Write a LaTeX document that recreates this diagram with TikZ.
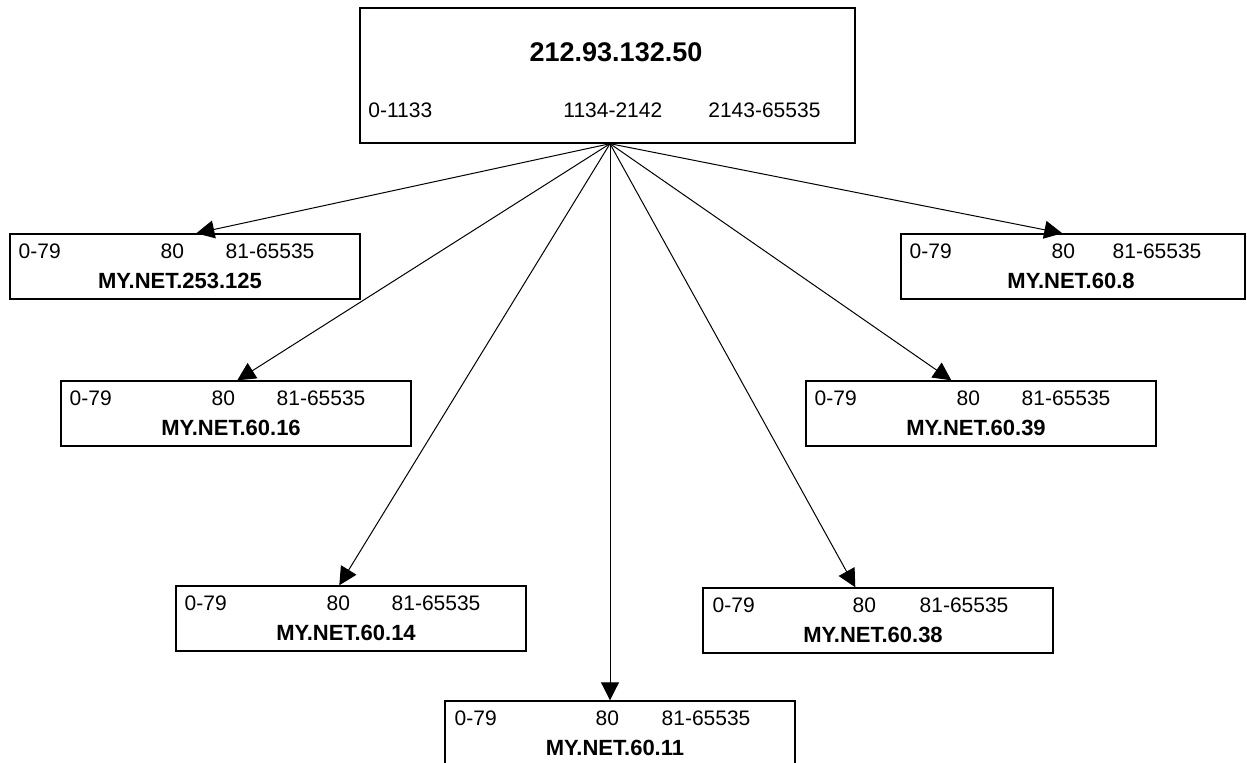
\documentclass[tikz,border=0pt]{standalone}
\usepackage{fontspec}
\setmainfont{Liberation Sans}
\usetikzlibrary{arrows.meta,calc}

\begin{document}
\begin{tikzpicture}[x=0.5pt, y=-0.5pt,
  hostbox/.style={rectangle, draw, line width=0.7pt, minimum width=175pt, minimum height=32.5pt, inner sep=0pt},
  ports/.style={anchor=west, inner sep=0pt, font=\fontsize{10.5}{12}\selectfont},
  hostname/.style={inner sep=0pt, font=\fontsize{11}{13}\selectfont\bfseries},
  arrow/.style={-{Triangle[length=9pt, width=9pt]}, line width=0.5pt},
]
\useasboundingbox (0,0) rectangle (1247,763);

% === Source host ===
\node[hostbox, minimum width=247.5pt, minimum height=67.5pt] (src) at (607.5,75.5) {};
\node[inner sep=0pt, font=\fontsize{13.5}{16}\selectfont\bfseries] (srcname) at (616,52) {212.93.132.50};
\node[ports] (srcports) at (368,110) {\makebox[97.5pt][l]{0-1133}\makebox[72.5pt][l]{1134-2142}2143-65535};
\coordinate (hub) at ($(src.south)+(2.5,0)$);

% === Target hosts ===
\node[hostbox] (h253) at (185,266.5) {};
\node[hostbox, minimum width=172pt] (h608) at (1073,266.5) {};
\node[hostbox] (h6016) at (236,413.5) {};
\node[hostbox] (h6039) at (981,413.5) {};
\node[hostbox] (h6014) at (351,618.5) {};
\node[hostbox] (h6038) at (878,620.5) {};
\node[hostbox] (h6011) at (620,733.5) {};

\node[ports] (p253) at ($(h253.north west)+(9,18)$) {\makebox[71pt][l]{0-79}\makebox[32.5pt][l]{80}81-65535};
\node[ports] (p608) at ($(h608.north west)+(9,18)$) {\makebox[71pt][l]{0-79}\makebox[30.5pt][l]{80}81-65535};
\node[ports] (p6016) at ($(h6016.north west)+(9,18)$) {\makebox[71pt][l]{0-79}\makebox[32.5pt][l]{80}81-65535};
\node[ports] (p6039) at ($(h6039.north west)+(9,18)$) {\makebox[71pt][l]{0-79}\makebox[32.5pt][l]{80}81-65535};
\node[ports] (p6014) at ($(h6014.north west)+(9,18)$) {\makebox[71pt][l]{0-79}\makebox[32.5pt][l]{80}81-65535};
\node[ports] (p6038) at ($(h6038.north west)+(10,18)$) {\makebox[70pt][l]{0-79}\makebox[33.5pt][l]{80}81-65535};
\node[ports] (p6011) at ($(h6011.north west)+(10,18)$) {\makebox[70.5pt][l]{0-79}\makebox[33pt][l]{80}81-65535};

\node[hostname] (n253) at ($(h253.north)+(-5,48)$) {MY.NET.253.125};
\node[hostname] (n608) at ($(h608.north)+(-2,48)$) {MY.NET.60.8};
\node[hostname] (n6016) at ($(h6016.north)+(-5,48)$) {MY.NET.60.16};
\node[hostname] (n6039) at ($(h6039.north)+(-5,48)$) {MY.NET.60.39};
\node[hostname] (n6014) at ($(h6014.north)+(-5,48)$) {MY.NET.60.14};
\node[hostname] (n6038) at ($(h6038.north)+(-5,48)$) {MY.NET.60.38};
\node[hostname] (n6011) at ($(h6011.north)+(-5,48)$) {MY.NET.60.11};

% === Connections ===
\draw[arrow] (hub) -- ($(h253.north west)+(187,0)$);
\draw[arrow] (hub) -- ($(h608.north west)+(162,0)$);
\draw[arrow] (hub) -- ($(h6016.north west)+(177,0)$);
\draw[arrow] (hub) -- ($(h6039.north west)+(146,0)$);
\draw[arrow] (hub) -- ($(h6014.north west)+(164,0)$);
\draw[arrow] (hub) -- ($(h6038.north west)+(153,0)$);
\draw[arrow] (hub) -- (hub |- h6011.north);

\end{tikzpicture}
\end{document}
